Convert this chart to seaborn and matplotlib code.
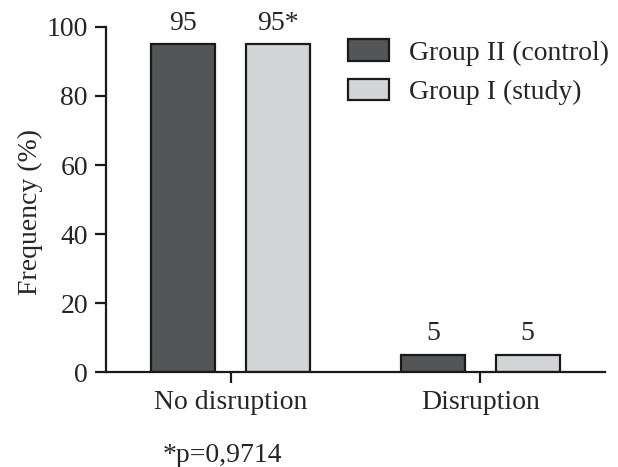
import pandas as pd
import matplotlib
matplotlib.use('Agg')
import matplotlib.pyplot as plt
import seaborn as sns

categories = ['No disruption', 'Disruption']
groups = ['Group II (control)', 'Group I (study)']
control_values = [95, 5]
study_values = [95, 5]
control_labels = ['95', '5']
study_labels = ['95*', '5']
footnote = '*p=0,9714'

df = pd.DataFrame({
    'category': categories * 2,
    'group': [groups[0]] * 2 + [groups[1]] * 2,
    'freq': control_values + study_values,
})

sns.set_style('ticks')
plt.rcParams['font.family'] = ['Liberation Serif', 'DejaVu Serif']
plt.rcParams['font.size'] = 20

fig = plt.figure(figsize=(6.18, 4.67), dpi=100)
ax = fig.add_axes([0.1715, 0.2034, 0.8075, 0.7388])

sns.barplot(data=df, x='category', y='freq', hue='group', order=categories,
            hue_order=groups, palette=['#545557', '#d3d4d6'],
            width=0.76, gap=0.326, edgecolor='#1a1a1a', linewidth=1.6,
            ax=ax)

ax.bar_label(ax.containers[0], labels=control_labels, padding=6, fontsize=20)
ax.bar_label(ax.containers[1], labels=study_labels, padding=6, fontsize=20)

ax.set_xlim(-0.5, 1.5)
ax.set_ylim(0, 100)
ax.set_yticks([0, 20, 40, 60, 80, 100])
ax.set_xlabel('')
ax.set_ylabel('Frequency (%)', fontsize=20)
ax.yaxis.set_label_coords(-0.126, 0.464)
sns.despine(ax=ax)
for s in ['left', 'bottom']:
    ax.spines[s].set_linewidth(1.6)
    ax.spines[s].set_color('#1a1a1a')
ax.tick_params(axis='both', length=8, width=1.6, color='#1a1a1a',
               labelsize=20, pad=5)

ax.legend(loc='upper left', bbox_to_anchor=(0.485, 0.965), frameon=False,
          fontsize=20, handlelength=1.48, handleheight=0.83,
          handletextpad=0.72, labelspacing=0.47, borderpad=0, borderaxespad=0)

fig.text(0.36, 0.011, footnote, ha='center', va='baseline', fontsize=20)

fig.savefig('out.png', dpi=100)
